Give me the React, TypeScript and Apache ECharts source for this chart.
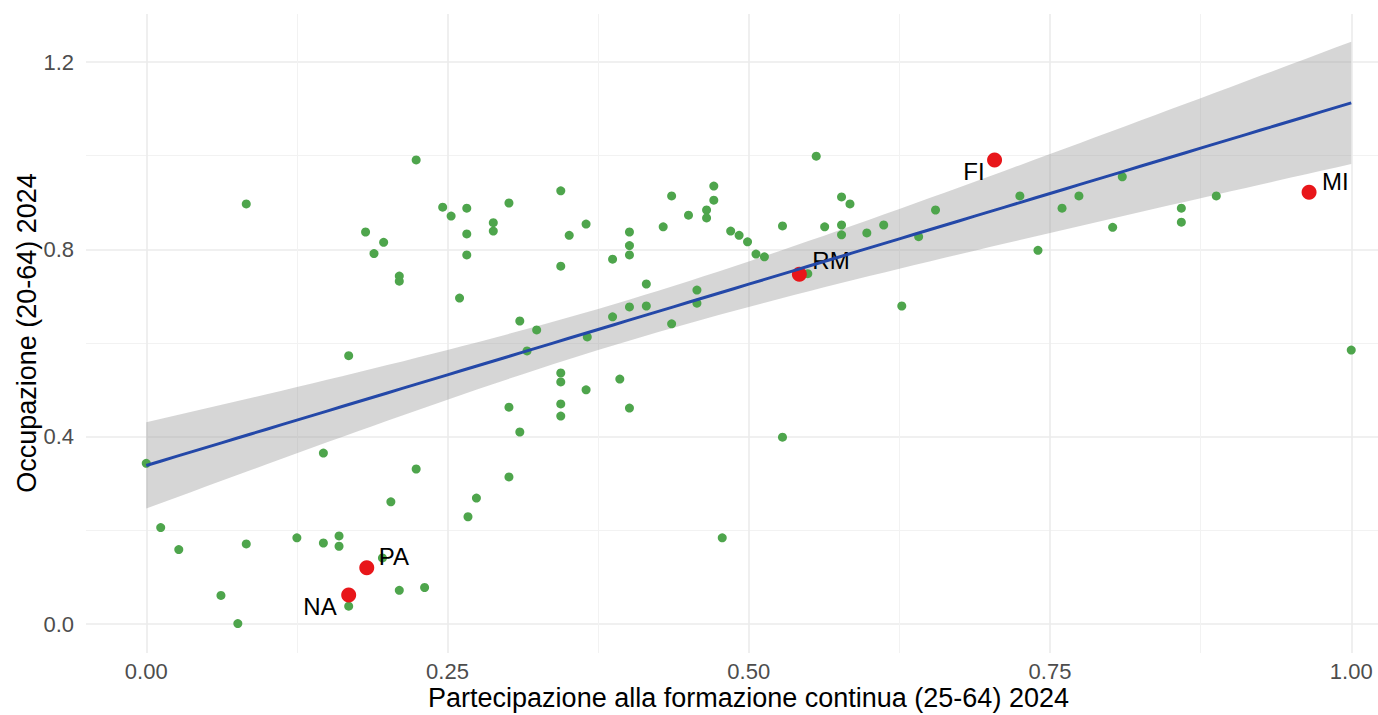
import React, { useEffect, useRef } from "react";
import * as echarts from "echarts";

// ---- data ----
const otherX = [
  0.000, 0.012, 0.027, 0.062, 0.076, 0.083, 0.083, 0.125, 0.147, 0.147,
  0.160, 0.160, 0.168, 0.168, 0.182, 0.197, 0.189, 0.203, 0.210, 0.210,
  0.210, 0.224, 0.224, 0.231, 0.196, 0.246, 0.253, 0.266, 0.266, 0.266,
  0.260, 0.288, 0.288, 0.301, 0.344, 0.351, 0.365, 0.344, 0.310, 0.324,
  0.316, 0.366, 0.344, 0.393, 0.387, 0.401, 0.401, 0.401, 0.415, 0.401,
  0.415, 0.387, 0.429, 0.436, 0.450, 0.465, 0.465, 0.471, 0.471, 0.436,
  0.457, 0.457, 0.485, 0.492, 0.499, 0.506, 0.513, 0.528, 0.556, 0.563,
  0.577, 0.577, 0.577, 0.584, 0.549, 0.344, 0.365, 0.301, 0.344, 0.344,
  0.401, 0.310, 0.528, 0.301, 0.274, 0.267, 0.478, 0.598, 0.612, 0.641,
  0.655, 0.627, 0.725, 0.740, 0.760, 0.774, 0.810, 0.802, 0.859, 0.859,
  0.888, 1.000,
];
const otherY = [
  0.343, 0.206, 0.159, 0.061, 0.001, 0.897, 0.171, 0.184, 0.365, 0.173,
  0.188, 0.166, 0.573, 0.038, 0.837, 0.815, 0.791, 0.261, 0.743, 0.732,
  0.072, 0.991, 0.331, 0.078, 0.141, 0.890, 0.871, 0.888, 0.833, 0.788,
  0.696, 0.857, 0.839, 0.899, 0.925, 0.830, 0.854, 0.764, 0.647, 0.628,
  0.583, 0.613, 0.536, 0.523, 0.779, 0.837, 0.808, 0.788, 0.726, 0.677,
  0.679, 0.656, 0.848, 0.914, 0.873, 0.884, 0.867, 0.935, 0.905, 0.641,
  0.713, 0.685, 0.839, 0.830, 0.816, 0.790, 0.784, 0.850, 0.999, 0.848,
  0.852, 0.831, 0.912, 0.897, 0.748, 0.517, 0.500, 0.463, 0.470, 0.444,
  0.461, 0.410, 0.399, 0.314, 0.269, 0.229, 0.184, 0.835, 0.852, 0.827,
  0.884, 0.679, 0.914, 0.798, 0.888, 0.914, 0.955, 0.847, 0.888, 0.858,
  0.914, 0.585,
];
const cityNames = ["RM", "FI", "MI", "PA", "NA"];
const cityX = [0.542, 0.704, 0.965, 0.183, 0.168];
const cityY = [0.747, 0.991, 0.922, 0.120, 0.062];

const xTickValues = [0, 0.25, 0.5, 0.75, 1];
const xTickLabels = ["0.00", "0.25", "0.50", "0.75", "1.00"];
const yTickValues = [0, 0.4, 0.8, 1.2];
const yTickLabels = ["0.0", "0.4", "0.8", "1.2"];

const xTitle = "Partecipazione alla formazione continua (25-64) 2024";
const yTitle = "Occupazione (20-64) 2024";

// ---- styles ----
const FONT = '"Liberation Sans", Arial, sans-serif';
const labelPlacement: Record<string, any> = {
  RM: { position: "right", distance: 5.5, offset: [0, -14] },
  FI: { position: "left", distance: 2.5, offset: [0, 12] },
  MI: { position: "right", distance: 5.5, offset: [0, -11] },
  PA: { position: "right", distance: 4.5, offset: [0, -11] },
  NA: { position: "left", distance: 4.5, offset: [0, 12] },
};

function fitModel(xs: number[], ys: number[]) {
  const n = xs.length;
  const xbar = xs.reduce((a, b) => a + b, 0) / n;
  const ybar = ys.reduce((a, b) => a + b, 0) / n;
  let sxx = 0, sxy = 0;
  for (let i = 0; i < n; i++) {
    sxx += (xs[i] - xbar) ** 2;
    sxy += (xs[i] - xbar) * (ys[i] - ybar);
  }
  const b = sxy / sxx;
  const a = ybar - b * xbar;
  let sse = 0;
  for (let i = 0; i < n; i++) sse += (ys[i] - a - b * xs[i]) ** 2;
  const s = Math.sqrt(sse / (n - 2));
  const t = 1.983;
  return { n, xbar, sxx, a, b, s, t };
}

export default function App() {
  const ref = useRef<HTMLDivElement>(null);
  useEffect(() => {
    if (!ref.current) return;
    const chart = echarts.init(ref.current, null, { renderer: "svg" });

    const allX = otherX.concat(cityX);
    const allY = otherY.concat(cityY);
    const m = fitModel(allX, allY);
    const xmin = Math.min(...allX);
    const xmax = Math.max(...allX);
    const steps = 80;
    const band: number[][] = [];
    const fit: number[][] = [];
    for (let i = 0; i <= steps; i++) {
      const x = xmin + ((xmax - xmin) * i) / steps;
      const yh = m.a + m.b * x;
      const h = m.t * m.s * Math.sqrt(1 / m.n + (x - m.xbar) ** 2 / m.sxx);
      band.push([x, yh - h, yh + h]);
      fit.push([x, yh]);
    }

    const gridLeft = 86, gridTop = 14, gridW = 1292, gridH = 639;
    const xPx = 1205, yPx = 468.33;
    const xMin = -0.05, yMin = -0.0619;

    const axisCommon = {
      type: "value",
      axisLine: { show: false },
      axisTick: { show: false },
      splitLine: { show: true, showMinLine: false, showMaxLine: false, lineStyle: { color: "#ebebeb", width: 1.6 } },
      minorTick: { show: false, splitNumber: 2 },
      minorSplitLine: { show: true, lineStyle: { color: "#f2f2f2", width: 1 } },
    };

    chart.setOption({
      animation: false,
      backgroundColor: "#ffffff",
      grid: { left: gridLeft, top: gridTop, width: gridW, height: gridH },
      xAxis: {
        ...axisCommon,
        min: xMin,
        max: xMin + gridW / xPx,
        minInterval: 0.25,
        maxInterval: 0.25,
        axisLabel: {
          showMinLabel: false,
          showMaxLabel: false,
          margin: 7,
          fontSize: 22,
          fontFamily: FONT,
          color: "#4d4d4d",
          formatter: (v: number) => {
            const i = xTickValues.findIndex((t) => Math.abs(t - v) < 1e-6);
            return i >= 0 ? xTickLabels[i] : "";
          },
        },
      },
      yAxis: {
        ...axisCommon,
        min: yMin,
        max: yMin + gridH / yPx,
        minInterval: 0.4,
        maxInterval: 0.4,
        axisLabel: {
          showMinLabel: false,
          showMaxLabel: false,
          margin: 12,
          fontSize: 22,
          fontFamily: FONT,
          color: "#4d4d4d",
          formatter: (v: number) => {
            const i = yTickValues.findIndex((t) => Math.abs(t - v) < 1e-6);
            return i >= 0 ? yTickLabels[i] : "";
          },
        },
      },
      graphic: [
        {
          type: "text",
          x: 748.5,
          y: 698,
          style: { text: xTitle, fontSize: 27, fontFamily: FONT, fill: "#000", align: "center", verticalAlign: "middle" },
        },
        {
          type: "text",
          x: 27,
          y: 333,
          rotation: Math.PI / 2,
          style: { text: yTitle, fontSize: 27, fontFamily: FONT, fill: "#000", align: "center", verticalAlign: "middle" },
        },
      ],
      series: [
        {
          type: "scatter",
          silent: true,
          symbol: "circle",
          symbolSize: 9,
          itemStyle: { color: "#4ea54c", opacity: 1 },
          data: otherX.map((x, i) => [x, otherY[i]]),
        },
        {
          type: "custom",
          silent: true,
          data: band,
          encode: { x: 0, y: [1, 2] },
          renderItem: (params: any, api: any) => {
            if (params.dataIndex !== 0) return null;
            const pts: number[][] = [];
            for (let i = 0; i < band.length; i++) pts.push(api.coord([band[i][0], band[i][2]]));
            for (let i = band.length - 1; i >= 0; i--) pts.push(api.coord([band[i][0], band[i][1]]));
            return {
              type: "polygon",
              shape: { points: pts },
              style: { fill: "rgba(153,153,153,0.4)" },
            };
          },
        },
        {
          type: "line",
          silent: true,
          symbol: "none",
          lineStyle: { color: "#2448a8", width: 3 },
          data: fit,
        },
        {
          type: "scatter",
          silent: true,
          symbol: "circle",
          symbolSize: 15,
          itemStyle: { color: "#e8161a", opacity: 1 },
          label: {
            show: true,
            formatter: (p: any) => p.name,
            fontSize: 24,
            fontFamily: FONT,
            color: "#000",
            opacity: 1,
            verticalAlign: "middle",
          },
          data: cityNames.map((n, i) => ({
            name: n,
            value: [cityX[i], cityY[i]],
            label: labelPlacement[n],
          })),
        },
      ],
    });
    return () => chart.dispose();
  }, []);
  return <div ref={ref} style={{ position: "fixed", left: 0, top: 0, width: 1378, height: 715 }} />;
}
